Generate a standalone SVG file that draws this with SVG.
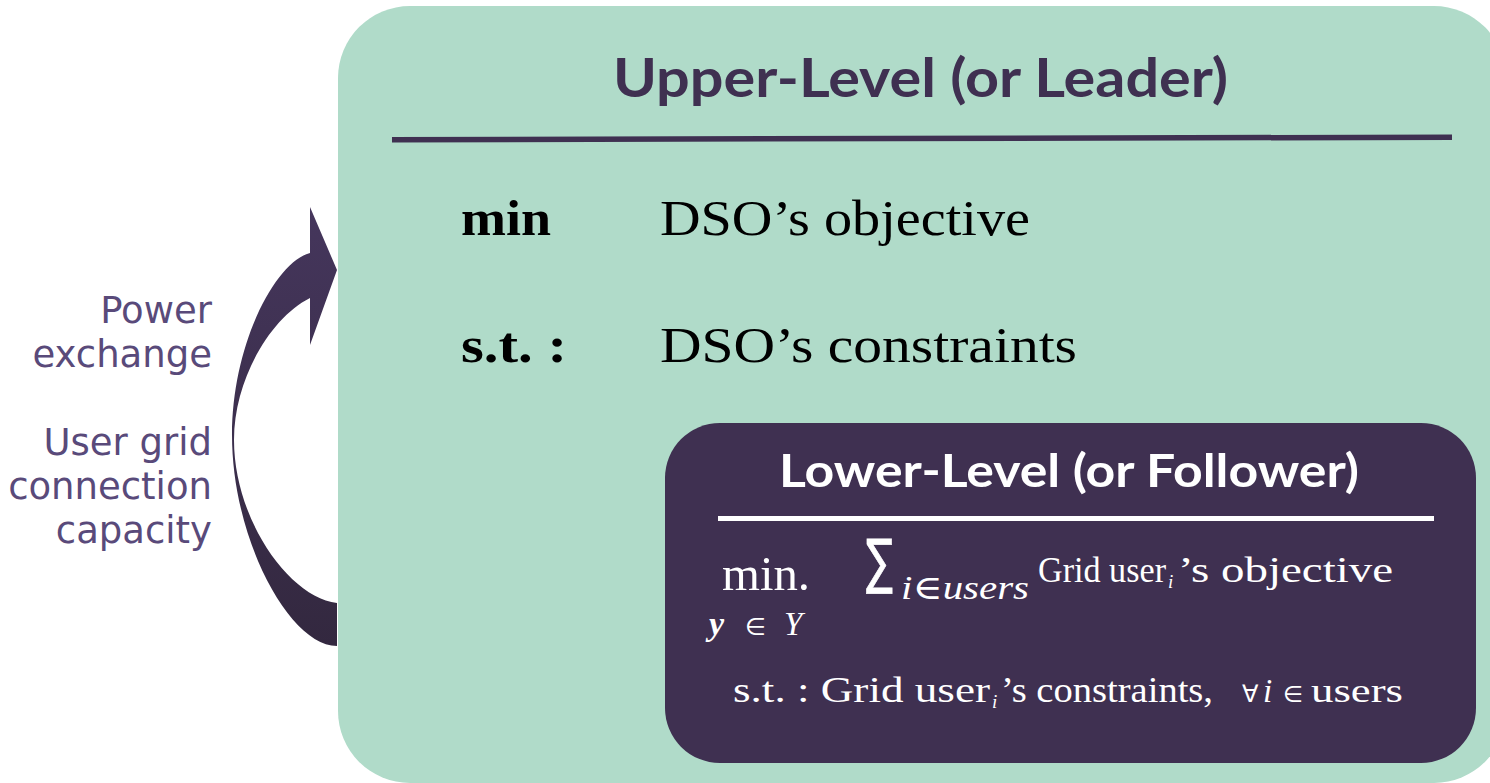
<svg xmlns="http://www.w3.org/2000/svg" width="1490" height="783" viewBox="0 0 1490 783">
  <defs>
    <linearGradient id="arrowFill" x1="0" y1="0" x2="0" y2="1">
      <stop offset="0" stop-color="#45365c"/>
      <stop offset="1" stop-color="#33283f"/>
    </linearGradient>
    <style>
      .title { font-family: Lato, "Open Sans", sans-serif; font-weight: 700; }
      .serif { font-family: "Liberation Serif", "DejaVu Serif", serif; }
      .bold { font-weight: 700; }
      .it { font-style: italic; }
      .sans { font-family: "DejaVu Sans", sans-serif; }
      .side { font-family: "DejaVu Sans", Verdana, sans-serif; font-size: 37px; fill: #594a7a; text-anchor: end; }
      .dark { fill: #000000; }
      .light { fill: #ffffff; }
    </style>
  </defs>

  <rect width="1490" height="783" fill="#ffffff"/>

  <!-- upper-level problem -->
  <g id="upper-level">
    <rect x="338" y="6" width="1168" height="777" rx="72" ry="72" fill="#b0dbc9"/>
    <text class="title" x="613" y="97" font-size="54" fill="#3f3051" textLength="615" lengthAdjust="spacingAndGlyphs">Upper-Level (or Leader)</text>
    <line x1="392" y1="139.7" x2="1452" y2="137.2" stroke="#3f3051" stroke-width="5.5"/>
    <text class="serif bold dark" x="461" y="235" font-size="50" textLength="90" lengthAdjust="spacingAndGlyphs">min</text>
    <text class="serif dark" x="660" y="235" font-size="51" textLength="370" lengthAdjust="spacingAndGlyphs">DSO’s objective</text>
    <text class="serif bold dark" x="461" y="362" font-size="50" textLength="106" lengthAdjust="spacingAndGlyphs">s.t. :</text>
    <text class="serif dark" x="660" y="362" font-size="51" textLength="417" lengthAdjust="spacingAndGlyphs">DSO’s constraints</text>
  </g>

  <!-- lower-level problem -->
  <g id="lower-level">
    <rect x="665" y="423" width="811" height="340" rx="55" ry="55" fill="#3f3051"/>
    <text class="title light" x="779" y="487" font-size="45" textLength="580" lengthAdjust="spacingAndGlyphs">Lower-Level (or Follower)</text>
    <line x1="718" y1="518.5" x2="1434" y2="518.5" stroke="#ffffff" stroke-width="5"/>

    <text class="serif light" x="722" y="590" font-size="48" textLength="88" lengthAdjust="spacingAndGlyphs">min.</text>
    <text class="sans light" x="866" y="582" font-size="60" stroke="#ffffff" stroke-width="0.8" textLength="27" lengthAdjust="spacingAndGlyphs">∑</text>
    <text class="serif light" x="901" y="599" font-size="34" textLength="128" lengthAdjust="spacingAndGlyphs"><tspan class="it">i</tspan>∈<tspan class="it">users</tspan></text>
    <text class="serif light" x="1038" y="582" font-size="35" textLength="128" lengthAdjust="spacingAndGlyphs">Grid user</text>
    <text class="serif it light" x="1168" y="588" font-size="19">i</text>
    <text class="serif light" x="1178" y="582" font-size="35" textLength="215" lengthAdjust="spacingAndGlyphs">’s objective</text>

    <text class="serif it bold light" x="709" y="635" font-size="34">y</text>
    <text class="sans light" x="745" y="635" font-size="24">∈</text>
    <text class="serif it light" x="784" y="635" font-size="33">Y</text>

    <text class="serif light" x="733" y="702" font-size="35" textLength="257" lengthAdjust="spacingAndGlyphs">s.t. : Grid user</text>
    <text class="serif it light" x="992" y="708" font-size="19">i</text>
    <text class="serif light" x="1001" y="702" font-size="35" textLength="212" lengthAdjust="spacingAndGlyphs">’s constraints,</text>
    <text class="sans light" x="1242" y="702" font-size="24">∀</text>
    <text class="serif it light" x="1263" y="702" font-size="33">i</text>
    <text class="sans light" x="1283" y="702" font-size="23">∈</text>
    <text class="serif light" x="1311" y="702" font-size="34" textLength="92" lengthAdjust="spacingAndGlyphs">users</text>
  </g>

  <!-- side labels -->
  <g id="labels">
    <text class="side" x="212" y="323">Power</text>
    <text class="side" x="212" y="367">exchange</text>
    <text class="side" x="212" y="455">User grid</text>
    <text class="side" x="212" y="499">connection</text>
    <text class="side" x="212" y="543">capacity</text>
  </g>

  <!-- curved feedback arrow -->
  <g id="connectors">
    <path d="M337,646 C290,646 232,540 232,435 C232,345 275,262 310,253 L310,207 L337,270 L310,345 L310,298 C270,318 234,380 234,440 C234,520 290,598 337,603 Z" fill="url(#arrowFill)"/>
  </g>
</svg>
